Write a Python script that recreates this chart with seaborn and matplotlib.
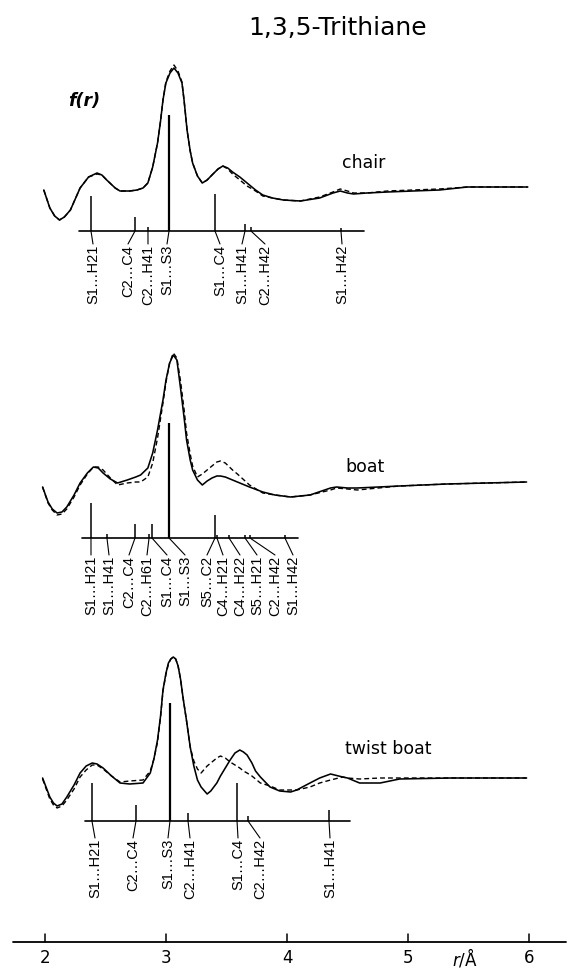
import numpy as np
import pandas as pd
import matplotlib
matplotlib.use("Agg")
import matplotlib.pyplot as plt
import seaborn as sns

# ---------------- data (r in Angstrom, f in arbitrary units above stick baseline) ----------------
chair_r = [1.99, 2.04, 2.08, 2.12, 2.16, 2.21, 2.25, 2.29, 2.36, 2.43, 2.47, 2.51, 2.58, 2.62,
           2.70, 2.76, 2.81, 2.85, 2.89, 2.93, 2.955, 2.975, 2.999, 3.033, 3.066, 3.099, 3.132,
           3.149, 3.16, 3.174, 3.20, 3.22, 3.26, 3.30, 3.34, 3.38, 3.43, 3.47, 3.51, 3.55, 3.61,
           3.67, 3.74, 3.80, 3.88, 3.97, 4.11, 4.27, 4.38, 4.44, 4.50, 4.55, 4.66, 4.83, 5.04,
           5.26, 5.49, 5.65, 5.99]
chair_exp = [41, 23, 15, 11, 14, 21, 32, 43, 54, 58, 56, 51, 43, 40,
             40, 41, 43, 48, 64, 88, 110, 131, 148, 158, 163, 158, 148,
             131, 118, 101, 80, 68, 55, 48, 51, 56, 62, 65, 63, 59, 54,
             48, 41, 36, 33, 31, 30, 33, 38, 40, 38, 37, 38, 39, 40,
             41, 44, 44, 44]
chair_calc = [41, 23, 15, 11, 14, 21, 32, 43, 54, 57, 56, 51, 43, 40,
              40, 41, 43, 48, 64, 88, 110, 131, 149, 160, 166, 160, 149,
              131, 118, 101, 80, 68, 55, 48, 51, 56, 62, 65, 62, 57, 51,
              45, 40, 35, 33, 31, 30, 34, 39, 42, 40, 38, 38, 40, 41,
              42, 44, 44, 44]

boat_r = [1.98, 2.025, 2.06, 2.10, 2.14, 2.18, 2.24, 2.29, 2.35, 2.40, 2.44, 2.48, 2.54, 2.60,
          2.68, 2.75, 2.79, 2.85, 2.89, 2.93, 2.975, 3.00, 3.03, 3.06, 3.09, 3.12, 3.15, 3.17,
          3.20, 3.22, 3.26, 3.30, 3.34, 3.38, 3.42, 3.45, 3.49, 3.55, 3.59, 3.69, 3.80, 3.90,
          4.03, 4.19, 4.36, 4.41, 4.50, 4.58, 4.93, 5.32, 5.98]
boat_exp = [51, 36, 29, 25, 26, 31, 43, 55, 65, 71, 70, 65, 59, 55,
            58, 61, 63, 70, 85, 108, 138, 158, 175, 183, 178, 150, 120, 98,
            78, 68, 58, 53, 57, 60, 62, 62, 61, 58, 56, 51, 46, 43,
            41, 43, 50, 51, 50, 50, 52, 54, 56]
boat_calc = [51, 35, 28, 23, 24, 29, 41, 53, 64, 71, 71, 68, 60, 53,
             55, 56, 56, 61, 75, 100, 135, 156, 175, 185, 180, 157, 128, 105,
             84, 72, 61, 64, 68, 72, 76, 77, 75, 68, 64, 53, 45, 43,
             41, 43, 48, 50, 49, 48, 52, 54, 56]

twist_r = [1.98, 2.04, 2.07, 2.10, 2.14, 2.18, 2.24, 2.29, 2.34, 2.39, 2.43, 2.48, 2.55, 2.62,
           2.70, 2.81, 2.87, 2.90, 2.93, 2.955, 2.975, 3.00, 3.02, 3.04, 3.06, 3.08, 3.10, 3.12,
           3.14, 3.17, 3.20, 3.23, 3.26, 3.29, 3.34, 3.37, 3.42, 3.45, 3.49, 3.53, 3.57, 3.61,
           3.64, 3.67, 3.71, 3.74, 3.78, 3.86, 3.94, 4.03, 4.08, 4.19, 4.27, 4.36, 4.46, 4.50,
           4.60, 4.77, 4.93, 5.35, 5.98]
twist_exp = [43, 24, 18, 15, 17, 24, 36, 48, 55, 58, 57, 53, 45, 38,
             37, 38, 48, 62, 81, 105, 131, 148, 158, 162, 164, 162, 155, 142,
             124, 100, 74, 55, 41, 34, 27, 30, 38, 45, 53, 61, 68, 71,
             69, 66, 58, 50, 44, 34, 30, 29, 31, 38, 43, 47, 44, 43,
             38, 38, 42, 43, 43]
twist_calc = [42, 22, 16, 13, 15, 21, 32, 44, 51, 56, 56, 52, 45, 39,
              40, 41, 50, 62, 79, 104, 130, 147, 157, 162, 164, 162, 155, 142,
              124, 100, 74, 60, 52, 48, 55, 58, 63, 65, 63, 59, 56, 53,
              50, 48, 45, 42, 38, 35, 31, 31, 31, 34, 38, 41, 44, 43,
              42, 43, 43, 43, 43]

# distance sticks
chair_names = ["S1…H21", "C2…C4", "C2…H41", "S1…S3", "S1…C4", "S1…H41", "C2…H42", "S1…H42"]
chair_dist = [2.380, 2.744, 2.851, 3.025, 3.405, 3.653, 3.702, 4.446]
chair_weight = [35, 14, 4, 116, 37, 7, 4, 3]

boat_names = ["S1…H21", "S1…H41", "C2…C4", "C2…H61", "S1…C4", "S1…S3", "S5…C2",
              "C4…H21", "C4…H22", "S5…H21", "C2…H42", "S1…H42"]
boat_dist = [2.380, 2.512, 2.744, 2.860, 2.884, 3.025, 3.405, 3.421, 3.521, 3.653, 3.694, 3.983]
boat_weight = [35, 4, 14, 4, 14, 115, 23, 3, 3, 3, 3, 3]

twist_names = ["S1…H21", "C2…C4", "S1…S3", "C2…H41", "S1…C4", "C2…H42", "S1…H41"]
twist_dist = [2.388, 2.752, 3.033, 3.182, 3.587, 3.678, 4.347]
twist_weight = [38, 16, 118, 8, 38, 5, 11]

x_ticks = [2, 3, 4, 5, 6]

# ---------------- layout ----------------
W, H = 573, 972
PX_R2, PX_PER_A = 45.0, 121.0


def px2r(px):
    return 2 + (px - PX_R2) / PX_PER_A


chair_lab = [px2r(v) for v in [93, 128, 148, 167, 220, 242, 265, 342]]
boat_lab = [px2r(v) for v in [91, 109, 129, 147, 167, 185, 207, 223, 240, 257, 275, 293]]
twist_lab = [px2r(v) for v in [95, 133, 168, 190, 238, 260, 330]]

panels = [
    dict(name="chair", base=231, r=chair_r, exp=chair_exp, calc=chair_calc,
         names=chair_names, dist=chair_dist, w=chair_weight, lab=chair_lab,
         axis=(79, 364), lead=13, name_xy=(342, 163), fs=10.5),
    dict(name="boat", base=538, r=boat_r, exp=boat_exp, calc=boat_calc,
         names=boat_names, dist=boat_dist, w=boat_weight, lab=boat_lab,
         axis=(82, 298), lead=17, name_xy=(345, 467), fs=10.5),
    dict(name="twist boat", base=821, r=twist_r, exp=twist_exp, calc=twist_calc,
         names=twist_names, dist=twist_dist, w=twist_weight, lab=twist_lab,
         axis=(85, 350), lead=17, name_xy=(345, 749), fs=10.5),
]

sns.set_style("white")
plt.rcParams['font.family'] = ['DejaVu Sans']
plt.rcParams['text.color'] = 'black'

fig = plt.figure(figsize=(W / 100, H / 100), dpi=100)
ax = fig.add_axes([0, 0, 1, 1])

for p in panels:
    base = p["base"]
    df = pd.DataFrame({"r": p["r"],
                       "exp": [base - v for v in p["exp"]],
                       "calc": [base - v for v in p["calc"]]})
    sns.lineplot(data=df, x="r", y="calc", ax=ax, color="black", lw=1.0,
                 sort=False, estimator=None)
    ax.lines[-1].set_dashes([3.5, 2.2])
    sns.lineplot(data=df, x="r", y="exp", ax=ax, color="black", lw=1.15,
                 sort=False, estimator=None)
    # stick baseline
    ax.plot([px2r(p["axis"][0]), px2r(p["axis"][1])], [base, base], color="black", lw=1.2)
    for nm, d, w, lr in zip(p["names"], p["dist"], p["w"], p["lab"]):
        lw = 1.6 if w > 100 else 1.1
        ax.plot([d, d], [base, base - w], color="black", lw=lw, solid_capstyle="butt")
        ax.plot([d, lr], [base, base + p["lead"]], color="black", lw=0.8)
        ax.text(lr, base + p["lead"] + 1, nm, rotation=90, ha="center", va="top",
                fontsize=p["fs"], family=["Liberation Sans", "DejaVu Sans"], color="black")
    ax.text(px2r(p["name_xy"][0]), p["name_xy"][1], p["name"], ha="left", va="center",
            fontsize=12.5, color="black")

# title and f(r)
ax.text(px2r(338), 28, "1,3,5-Trithiane", ha="center", va="center", fontsize=18, color="black")
ax.text(px2r(84), 101, "f(r)", ha="center", va="center", fontsize=12.5, style="italic",
        weight="bold", color="black")

# bottom r axis
ax.plot([px2r(13), px2r(566)], [942, 942], color="black", lw=1.3)
for t in x_ticks:
    ax.plot([t, t], [942, 934], color="black", lw=1.1)
    ax.text(t, 958, str(t), ha="center", va="center", fontsize=12, color="black")
ax.text(px2r(465), 958, "$r$/Å", ha="center", va="center", fontsize=12, color="black")

ax.set_xlim(px2r(0), px2r(W))
ax.set_ylim(H, 0)
ax.axis("off")
fig.savefig("out.png", dpi=100)
